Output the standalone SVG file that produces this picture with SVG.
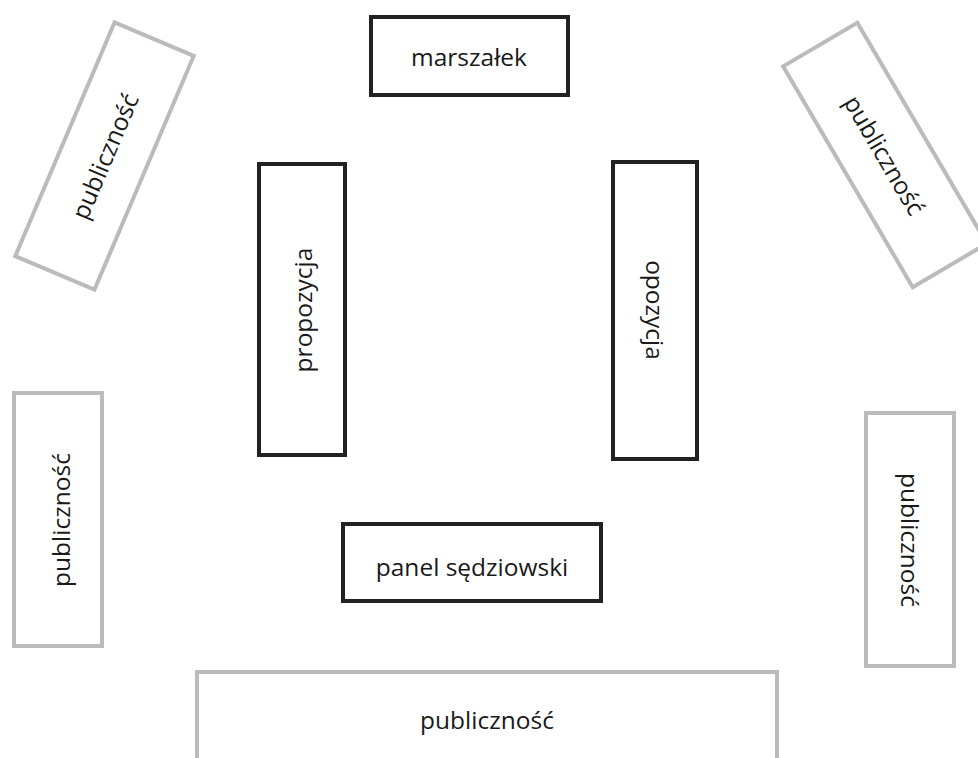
<svg xmlns="http://www.w3.org/2000/svg" width="978" height="758" viewBox="0 0 978 758">
<style>
.k{fill:#fff;stroke:#222;stroke-width:4}
.g{fill:#fff;stroke:#bbb;stroke-width:4}
text{font-family:"Open Sans","Noto Sans",sans-serif;font-size:24.5px;fill:#1a1a1a;text-anchor:middle;dominant-baseline:central}
</style>
<rect width="978" height="758" fill="#fff"/>
<g id="connectors"></g>
<g id="marszalek"><rect class="k" x="371" y="17" width="197" height="78"/><text x="469" y="56">marszałek</text></g>
<g id="propozycja"><rect class="k" x="259" y="164" width="86" height="291"/><text transform="translate(302,310) rotate(-90)">propozycja</text></g>
<g id="opozycja"><rect class="k" x="613" y="162" width="84" height="297"/><text transform="translate(655,310) rotate(90)">opozycja</text></g>
<g id="panel"><rect class="k" x="343" y="524" width="258" height="77"/><text x="472" y="566">panel sędziowski</text></g>
<g id="pub-left"><rect class="g" x="14" y="393" width="88" height="253"/><text transform="translate(60,520) rotate(-90)">publiczność</text></g>
<g id="pub-right"><rect class="g" x="866" y="413" width="88" height="253"/><text transform="translate(910,540) rotate(90)">publiczność</text></g>
<g id="pub-bottom"><rect class="g" x="197" y="672" width="580" height="120"/><text x="487" y="719">publiczność</text></g>
<g id="pub-topleft" transform="translate(104.5,156) rotate(23)"><rect class="g" x="-43" y="-127" width="86" height="254"/><text transform="rotate(-90)">publiczność</text></g>
<g id="pub-topright" transform="translate(885,155) rotate(-30.4)"><rect class="g" x="-43" y="-128" width="86" height="256"/><text transform="rotate(90)">publiczność</text></g>
</svg>
